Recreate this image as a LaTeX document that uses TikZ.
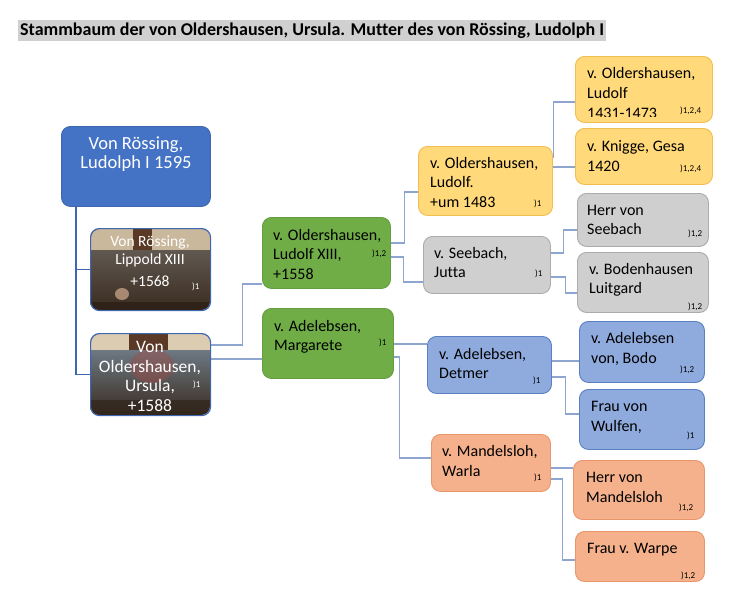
\documentclass[tikz,border=0pt]{standalone}
\usepackage{fontspec}
\setmainfont{Carlito}[Ligatures=NoCommon]
\usetikzlibrary{backgrounds}
\definecolor{rootblue}{HTML}{4472C4}
\definecolor{rootedge}{HTML}{3F67B0}
\definecolor{grn}{HTML}{70AD47}
\definecolor{grnedge}{HTML}{649E3E}
\definecolor{ylw}{HTML}{FFD97A}
\definecolor{ylwedge}{HTML}{F2BE52}
\definecolor{gry}{HTML}{CFCFCF}
\definecolor{gryedge}{HTML}{ABABAB}
\definecolor{lblue}{HTML}{8FAADC}
\definecolor{lblueedge}{HTML}{5B7FC4}
\definecolor{slm}{HTML}{F4B18C}
\definecolor{slmedge}{HTML}{E9966C}
\definecolor{conn}{HTML}{8EA6CF}
\definecolor{titlegray}{HTML}{D0D0D0}
\definecolor{beige}{HTML}{C9B89C}
\definecolor{beige2}{HTML}{DCCDB2}
\definecolor{stripc}{HTML}{5A3A26}
\definecolor{photomid}{HTML}{625A52}
\definecolor{photodark}{HTML}{3A2B20}
\definecolor{photoblue}{HTML}{6E7B86}
\definecolor{photored}{HTML}{A04C46}
\definecolor{blob}{HTML}{C9A58A}
\begin{document}
\begin{tikzpicture}[x=1pt,y=-1pt,
  bx/.style={rounded corners=9pt, draw, line width=0.9pt, inner sep=0pt, anchor=north west},
  rootbox/.style={bx, fill=rootblue, draw=rootedge},
  photobox/.style={bx, draw=rootedge, line width=1.2pt},
  gbox/.style={bx, fill=grn, draw=grnedge},
  ybox/.style={bx, fill=ylw, draw=ylwedge},
  greybox/.style={bx, fill=gry, draw=gryedge},
  bbox/.style={bx, fill=lblue, draw=lblueedge},
  sbox/.style={bx, fill=slm, draw=slmedge},
  txt/.style={anchor=base west, inner sep=0pt, font=\fontsize{16}{19.5}\selectfont},
  wtxt/.style={anchor=base, inner sep=0pt, text=white},
  fn/.style={anchor=base west, inner sep=0pt, font=\fontsize{9}{10}\selectfont},
  con/.style={draw=conn, line width=1.1pt},
  rootcon/.style={draw=rootedge, line width=1.6pt}]
\useasboundingbox (0,0) rectangle (731,600);

% title
\node[anchor=north west, fill=titlegray, inner xsep=2pt, inner ysep=0pt, minimum height=21pt,
  font=\fontsize{18}{20}\selectfont\bfseries] (title) at (18,20)
  {Stammbaum der von Oldershausen, Ursula. Mutter des von Rössing, Ludolph I};

% photo backgrounds
\begin{scope}
\clip[rounded corners=9pt] (90,228) rectangle (210,310);
\shade[top color=photomid, bottom color=photodark] (90,248) rectangle (210,310);
\fill[beige] (90,228) rectangle (210,250);
\fill[stripc] (133,228) rectangle (152,250);
\fill[photodark!80!black] (90,302) rectangle (210,310);
\fill[blob, opacity=0.75] (122,294) ellipse (7pt and 6pt);
\end{scope}
\begin{scope}
\clip[rounded corners=9pt] (90,333) rectangle (210,415);
\shade[top color=photoblue, bottom color=photodark] (90,348) rectangle (210,415);
\fill[photored, opacity=0.45] (152,366) ellipse (22pt and 17pt);
\fill[beige2] (90,333) rectangle (210,350);
\fill[stripc] (129,333) rectangle (168,350);
\fill[photodark!80!black, opacity=0.6] (90,400) rectangle (210,415);
\end{scope}

% boxes
\node[rootbox, minimum width=149pt, minimum height=80pt] (root) at (61,126) {};
\node[photobox, minimum width=120pt, minimum height=82pt] (lip) at (90,228) {};
\node[photobox, minimum width=120pt, minimum height=82pt] (urs) at (90,333) {};
\node[gbox, minimum width=128pt, minimum height=71pt] (lx) at (262,217) {};
\node[gbox, minimum width=131pt, minimum height=70pt] (marg) at (262,308) {};
\node[ybox, minimum width=134pt, minimum height=69pt] (ludolf) at (418,146) {};
\node[greybox, minimum width=127pt, minimum height=57pt] (jutta) at (423,236) {};
\node[ybox, minimum width=137pt, minimum height=66pt] (old) at (575,56) {};
\node[ybox, minimum width=137pt, minimum height=56pt] (knigge) at (575,128) {};
\node[greybox, minimum width=131pt, minimum height=53pt] (seeb) at (577,193) {};
\node[greybox, minimum width=131pt, minimum height=60pt] (boden) at (577,252) {};
\node[bbox, minimum width=124pt, minimum height=57pt] (detmer) at (427,336) {};
\node[sbox, minimum width=119pt, minimum height=57pt] (warla) at (431,434) {};
\node[bbox, minimum width=125pt, minimum height=61pt] (bodo) at (579,321) {};
\node[bbox, minimum width=125pt, minimum height=60pt] (wulfen) at (579,389) {};
\node[sbox, minimum width=131pt, minimum height=59pt] (mand) at (573,460) {};
\node[sbox, minimum width=129pt, minimum height=50pt] (warpe) at (575,531) {};

% connectors
\begin{scope}[on background layer]
\draw[rootcon] (root.south -| 76,0) |- (lip.west);
\draw[rootcon] (root.south -| 76,0) |- (urs.west);
\draw[con] (urs.east |- 0,345) -- ++(31,0) |- (lx.west |- 0,284);
\draw[con] (urs.east |- 0,359) -- (marg.west |- 0,359);
\draw[con] (lx.east |- 0,243) -- ++(14,0) |- (ludolf.west |- 0,192);
\draw[con] (lx.east |- 0,257) -- ++(13,0) |- (jutta.west |- 0,282);
\draw[con] (ludolf.east |- 0,157) -- ++(1,0) |- (old.west |- 0,102);
\draw[con] (ludolf.east |- 0,167) -- (knigge.west |- 0,167);
\draw[con] (jutta.east |- 0,253) -- ++(13,0) |- (seeb.west |- 0,230);
\draw[con] (jutta.east |- 0,277) -- ++(15,0) |- (boden.west |- 0,293);
\draw[con] (marg.east |- 0,344) -- (detmer.west |- 0,344);
\draw[con] (marg.east |- 0,357) -- ++(6,0) |- (warla.west |- 0,458);
\draw[con] (detmer.east |- 0,361) -- (bodo.west |- 0,361);
\draw[con] (detmer.east |- 0,377) -- ++(14,0) |- (wulfen.west |- 0,414);
\draw[con] (warla.east |- 0,468) -- (mand.west |- 0,468);
\draw[con] (warla.east |- 0,479) -- ++(12,0) |- (warpe.west |- 0,560);
\end{scope}

% texts
\node[wtxt, font=\fontsize{18.5}{19}\selectfont] (troot) at (136,149.5)
  {\begin{tabular}[t]{@{}c@{}}Von Rössing,\\Ludolph I 1595\end{tabular}};
\node[wtxt, font=\fontsize{15.5}{18}\selectfont] (tlip) at (150,246)
  {\begin{tabular}[t]{@{}c@{}}Von Rössing,\\Lippold XIII\\[4pt]+1568\end{tabular}};
\node[wtxt, font=\fontsize{17.5}{19.7}\selectfont] (turs) at (150,352.5)
  {\begin{tabular}[t]{@{}c@{}}Von\\Oldershausen,\\Ursula,\\+1588\end{tabular}};
\node[txt] (tlx) at (273,240) {\begin{tabular}[t]{@{}l@{}}v. Oldershausen,\\Ludolf XIII,\\+1558\end{tabular}};
\node[txt] (tmarg) at (274,331) {\begin{tabular}[t]{@{}l@{}}v. Adelebsen,\\Margarete\end{tabular}};
\node[txt] (tludolf) at (430,168) {\begin{tabular}[t]{@{}l@{}}v. Oldershausen,\\Ludolf.\\+um 1483\end{tabular}};
\node[txt] (tjutta) at (434,258) {\begin{tabular}[t]{@{}l@{}}v. Seebach,\\Jutta\end{tabular}};
\begin{scope}
\clip (575,56) rectangle (712,116);
\node[txt, font=\fontsize{16}{20}\selectfont] (told) at (587,78) {\begin{tabular}[t]{@{}l@{}}v. Oldershausen,\\Ludolf\\1431-1473\end{tabular}};
\end{scope}
\node[txt, font=\fontsize{16}{20}\selectfont] (tknigge) at (587,151) {\begin{tabular}[t]{@{}l@{}}v. Knigge, Gesa\\1420\end{tabular}};
\node[txt, font=\fontsize{16}{19}\selectfont] (tseeb) at (587,215) {\begin{tabular}[t]{@{}l@{}}Herr von\\Seebach\end{tabular}};
\node[txt, font=\fontsize{16}{19}\selectfont] (tboden) at (589,274.5) {\begin{tabular}[t]{@{}l@{}}v. Bodenhausen\\Luitgard\end{tabular}};
\node[txt, font=\fontsize{16}{19}\selectfont] (tdetmer) at (439,359) {\begin{tabular}[t]{@{}l@{}}v. Adelebsen,\\Detmer\end{tabular}};
\node[txt, font=\fontsize{16}{20}\selectfont] (twarla) at (442,456) {\begin{tabular}[t]{@{}l@{}}v. Mandelsloh,\\Warla\end{tabular}};
\node[txt, font=\fontsize{16}{20}\selectfont] (tbodo) at (591,343) {\begin{tabular}[t]{@{}l@{}}v. Adelebsen\\von, Bodo\end{tabular}};
\node[txt, font=\fontsize{16}{20}\selectfont] (twulfen) at (591,411) {\begin{tabular}[t]{@{}l@{}}Frau von\\Wulfen,\end{tabular}};
\node[txt, font=\fontsize{16}{20}\selectfont] (tmand) at (586,482) {\begin{tabular}[t]{@{}l@{}}Herr von\\Mandelsloh\end{tabular}};
\node[txt] (twarpe) at (587,553) {Frau v. Warpe};

% footnote marks
\node[fn, text=white] (flip) at (192,289) {)1};
\node[fn, text=white] (furs) at (193,387) {)1};
\node[fn] (flx) at (372,256) {)1,2};
\node[fn] (fmarg) at (379,345) {)1};
\node[fn] (fludolf) at (534,206) {)1};
\node[fn] (fjutta) at (535,276) {)1};
\node[fn] (fold) at (680,113) {)1,2,4};
\node[fn] (fknigge) at (680,171) {)1,2,4};
\node[fn] (fseeb) at (688,236) {)1,2};
\node[fn] (fboden) at (688,309) {)1,2};
\node[fn] (fdetmer) at (533,383) {)1};
\node[fn] (fbodo) at (680,372) {)1,2};
\node[fn] (fwulfen) at (687,438) {)1};
\node[fn] (fwarla) at (534,480) {)1};
\node[fn] (fmand) at (679,510) {)1,2};
\node[fn] (fwarpe) at (681,578) {)1,2};
\end{tikzpicture}
\end{document}
